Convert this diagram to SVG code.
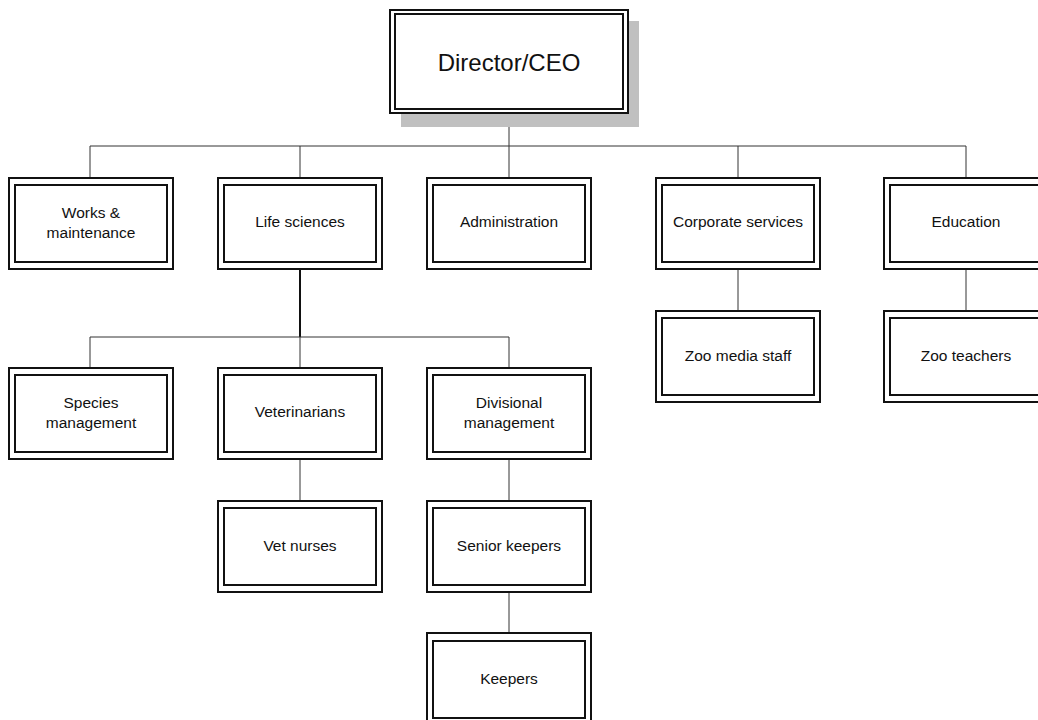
<svg xmlns="http://www.w3.org/2000/svg" width="1038" height="720" viewBox="0 0 1038 720">
<style>
.o{fill:#fff;stroke:#111;stroke-width:2}
.i{fill:none;stroke:#111;stroke-width:2}
.t{font-family:"Liberation Sans",Arial,sans-serif;font-size:15.5px;fill:#111;text-anchor:middle}
.big{font-size:24px}
.c{fill:none;stroke:#333;stroke-width:1}
.ct{fill:none;stroke:#111;stroke-width:2}
</style>
<rect width="1038" height="720" fill="#fff"/>
<g id="connectors">
<path class="c" d="M509 113V146M90 146H966M90 146V178M300 146V178M509 146V178M738 146V178M966 146V178"/>
<path class="ct" d="M300 269V337"/>
<path class="c" d="M90 337H509M90 337V368M300 337V368M509 337V368"/>
<path class="c" d="M738 269V311M966 269V311"/>
<path class="c" d="M300 459V501M509 459V501M509 592V633"/>
</g>
<g id="director">
<rect x="401" y="21" width="238" height="106" fill="#c0c0c0"/>
<rect class="o" x="390" y="10" width="238" height="103"/>
<rect class="i" x="395" y="14" width="228" height="95"/>
<text class="t big" x="509" y="71">Director/CEO</text>
</g>
<g id="works">
<rect class="o" x="9" y="178" width="164" height="91"/><rect class="i" x="15" y="185" width="152" height="77"/>
<text class="t" x="91" y="218">Works &amp;</text><text class="t" x="91" y="238">maintenance</text>
</g>
<g id="life">
<rect class="o" x="218" y="178" width="164" height="91"/><rect class="i" x="224" y="185" width="152" height="77"/>
<text class="t" x="300" y="227">Life sciences</text>
</g>
<g id="admin">
<rect class="o" x="427" y="178" width="164" height="91"/><rect class="i" x="433" y="185" width="152" height="77"/>
<text class="t" x="509" y="227">Administration</text>
</g>
<g id="corporate">
<rect class="o" x="656" y="178" width="164" height="91"/><rect class="i" x="662" y="185" width="152" height="77"/>
<text class="t" x="738" y="227">Corporate services</text>
</g>
<g id="education">
<rect class="o" x="884" y="178" width="164" height="91"/><rect class="i" x="890" y="185" width="152" height="77"/>
<text class="t" x="966" y="227">Education</text>
</g>
<g id="zoomedia">
<rect class="o" x="656" y="311" width="164" height="91"/><rect class="i" x="662" y="318" width="152" height="77"/>
<text class="t" x="738" y="361">Zoo media staff</text>
</g>
<g id="zooteachers">
<rect class="o" x="884" y="311" width="164" height="91"/><rect class="i" x="890" y="318" width="152" height="77"/>
<text class="t" x="966" y="361">Zoo teachers</text>
</g>
<g id="species">
<rect class="o" x="9" y="368" width="164" height="91"/><rect class="i" x="15" y="375" width="152" height="77"/>
<text class="t" x="91" y="408">Species</text><text class="t" x="91" y="428">management</text>
</g>
<g id="vets">
<rect class="o" x="218" y="368" width="164" height="91"/><rect class="i" x="224" y="375" width="152" height="77"/>
<text class="t" x="300" y="417">Veterinarians</text>
</g>
<g id="divisional">
<rect class="o" x="427" y="368" width="164" height="91"/><rect class="i" x="433" y="375" width="152" height="77"/>
<text class="t" x="509" y="408">Divisional</text><text class="t" x="509" y="428">management</text>
</g>
<g id="vetnurses">
<rect class="o" x="218" y="501" width="164" height="91"/><rect class="i" x="224" y="508" width="152" height="77"/>
<text class="t" x="300" y="551">Vet nurses</text>
</g>
<g id="seniorkeepers">
<rect class="o" x="427" y="501" width="164" height="91"/><rect class="i" x="433" y="508" width="152" height="77"/>
<text class="t" x="509" y="551">Senior keepers</text>
</g>
<g id="keepers">
<rect class="o" x="427" y="633" width="164" height="91"/><rect class="i" x="433" y="641" width="152" height="77"/>
<text class="t" x="509" y="684">Keepers</text>
</g>
</svg>
